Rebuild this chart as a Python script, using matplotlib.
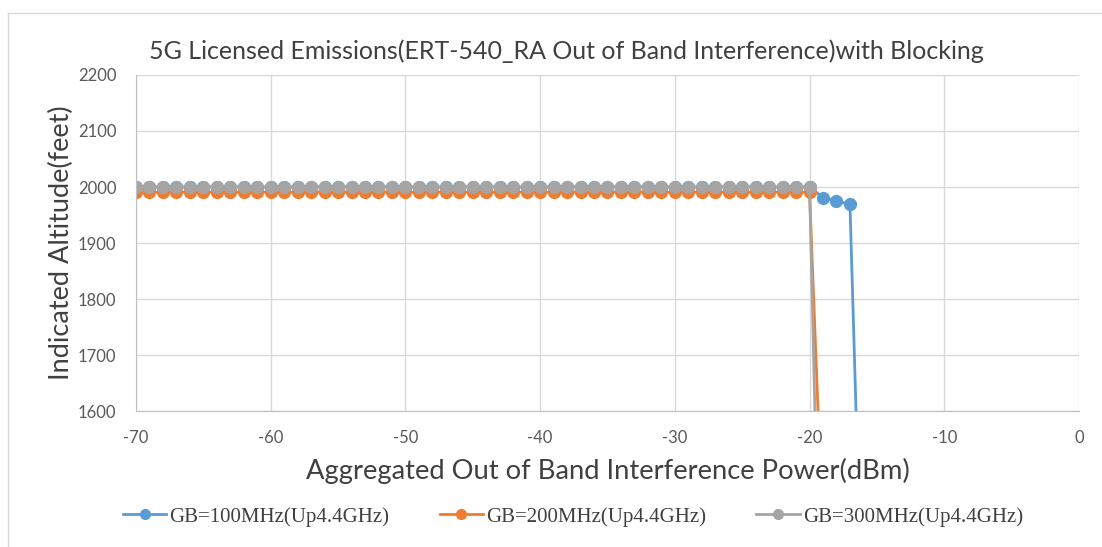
import matplotlib
matplotlib.use("Agg")
import matplotlib.pyplot as plt
from matplotlib.lines import Line2D

plt.rcParams["axes.unicode_minus"] = False

x_base = list(range(-70, -19))  # -70 .. -20
blue_x = x_base + [-19, -18, -17, -16]
blue_y = [2000] * len(x_base) + [1981, 1975, 1969, 1150]
orange_x = x_base + [-19]
orange_y = [1991] * len(x_base) + [1370]
grey_x = x_base + [-19]
grey_y = [2000] * len(x_base) + [1000]

labels = ["GB=100MHz(Up4.4GHz)", "GB=200MHz(Up4.4GHz)", "GB=300MHz(Up4.4GHz)"]
colors = ["#5b9bd5", "#ed7d31", "#a5a5a5"]

SANS = ["Lato", "DejaVu Sans"]

fig = plt.figure(figsize=(11.02, 5.47), dpi=100)
ax = fig.add_axes([0.1234, 0.2486, 0.8557, 0.6143])

series = [(blue_x, blue_y), (orange_x, orange_y), (grey_x, grey_y)]
for (xs, ys), lab, c in zip(series, labels, colors):
    ax.plot(xs, ys, color=c, lw=2.0, marker="o", markersize=8.5, label=lab)

ax.set_xlim(-70, 0)
ax.set_ylim(1600, 2200)
ax.set_xticks(range(-70, 1, 10))
ax.set_yticks(range(1600, 2201, 100))
ax.grid(True, color="#d9d9d9", lw=1)
ax.set_axisbelow(True)
for s in ["top", "right"]:
    ax.spines[s].set_visible(False)
ax.spines["left"].set_color("#bfbfbf")
ax.spines["bottom"].set_color("#bfbfbf")
ax.tick_params(length=0, labelsize=12, colors="#595959")
ax.tick_params(axis="x", pad=14)
ax.tick_params(axis="y", pad=14)
for t in ax.get_xticklabels() + ax.get_yticklabels():
    t.set_family(SANS)

ax.set_xlabel("Aggregated Out of Band Interference Power(dBm)", fontsize=19.7,
              color="#404040", family=SANS, labelpad=8)
ax.set_ylabel("Indicated Altitude(feet)", fontsize=19.5, color="#404040",
              family=SANS, labelpad=3)
fig.text(0.514, 0.906, "5G Licensed Emissions(ERT-540_RA Out of Band Interference)with Blocking",
         ha="center", va="center", fontsize=18, color="#404040", family=SANS)

handles = [Line2D([], [], color=c, lw=2.0, marker="o", markersize=7) for c in colors]
leg = fig.legend(handles, labels, loc="center", bbox_to_anchor=(0.52, 0.055), ncol=3,
                 frameon=False, prop={"family": "Liberation Serif", "size": 15},
                 columnspacing=2.4, handlelength=2.1, handletextpad=0.15)
for t in leg.get_texts():
    t.set_color("#404040")

top = 1 - 12.5 / 547
left = 8 / 1102
fig.lines.append(Line2D([left, 1.0], [top, top], transform=fig.transFigure,
                        color="#d9d9d9", lw=1))
fig.lines.append(Line2D([left, left], [0.0, top], transform=fig.transFigure,
                        color="#d9d9d9", lw=1))

fig.savefig("out.png", dpi=100)
